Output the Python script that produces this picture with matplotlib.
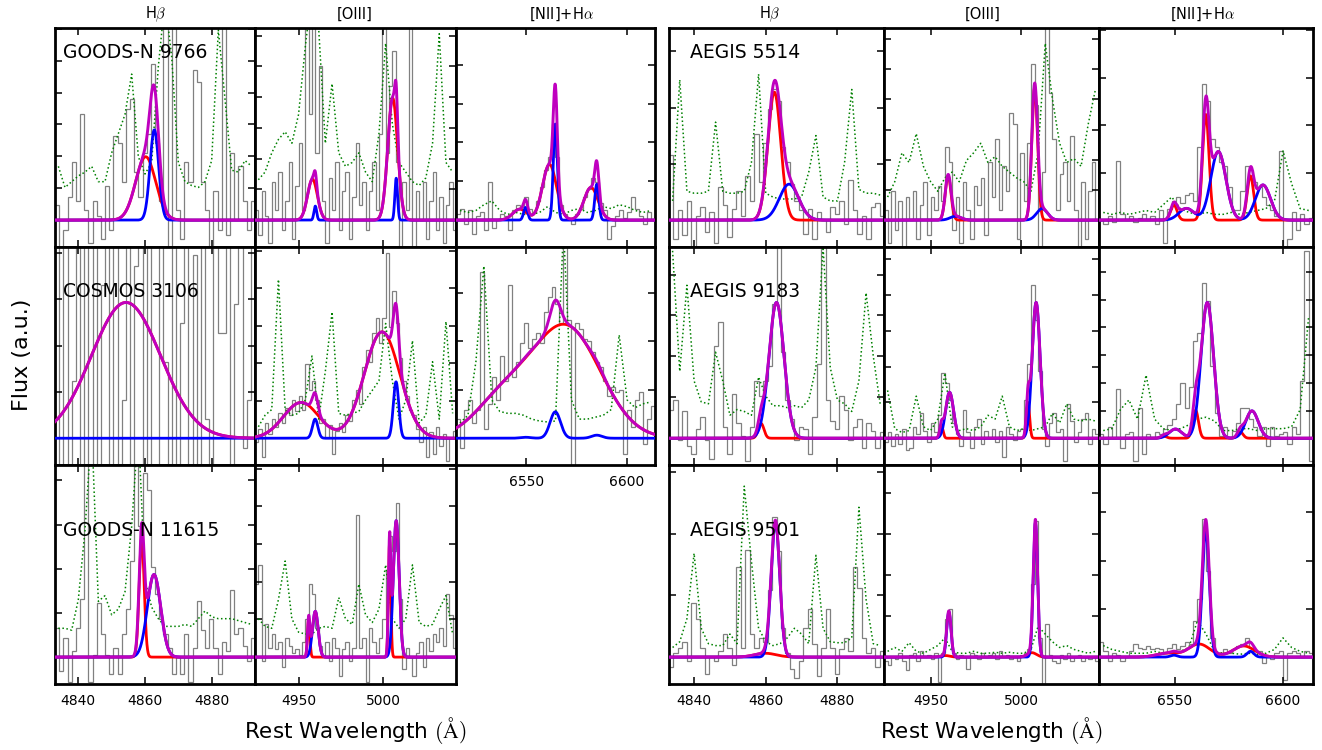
import numpy as np
import matplotlib
matplotlib.use('Agg')
import matplotlib.pyplot as plt
from matplotlib.ticker import MultipleLocator

plt.rcParams['font.family'] = ['DejaVu Sans']
plt.rcParams['mathtext.fontset'] = 'cm'

# ---------------- wavelength windows (rest frame, Angstrom) ----------------
HB_RANGE = (4833.0, 4893.0)
OIII_RANGE = (4924.0, 5043.0)
NII_RANGE = (6515.0, 6614.0)
HB_TICKS = [4840, 4860, 4880]
OIII_TICKS = [4950, 5000]
NII_TICKS = [6550, 6600]
COL_TITLES = ['H$\\beta$', '[OIII]', '[NII]+H$\\alpha$']

# ---------------- fit components: (centre, amplitude, sigma) ----------------
gn9766_hb_red = [(4860.2, 0.33, 3.0)]
gn9766_hb_blue = [(4862.8, 0.47, 1.3)]
gn9766_oiii_red = [(4958.0, 0.213, 2.9), (5005.5, 0.636, 2.9)]
gn9766_oiii_blue = [(4959.7, 0.073, 0.8), (5007.6, 0.218, 0.8)]
gn9766_nii_red = [(6546.75, 0.057, 3.5), (6561.5, 0.29, 3.5), (6582.15, 0.17, 3.5)]
gn9766_nii_blue = [(6549.65, 0.066, 1.0), (6564.4, 0.50, 1.0), (6585.05, 0.187, 1.0)]

a5514_hb_red = [(4862.4, 0.666, 1.8)]
a5514_hb_blue = [(4866.5, 0.187, 2.7)]
a5514_oiii_red = [(4959.5, 0.23, 1.6), (5007.4, 0.69, 1.6)]
a5514_oiii_blue = [(4963.6, 0.02, 3.0), (5011.5, 0.06, 3.0)]
a5514_nii_red = [(6549.65, 0.078, 1.5), (6564.4, 0.55, 1.5), (6585.05, 0.23, 1.5)]
a5514_nii_blue = [(6555.45, 0.061, 3.5), (6570.2, 0.357, 3.5), (6590.85, 0.183, 3.5)]

c3106_hb_red = [(4854.3, 0.71, 10.4)]
c3106_hb_blue = [(4862.0, 0.0, 1.0)]
c3106_oiii_red = [(4951.3, 0.187, 10.5), (4999.2, 0.556, 10.5)]
c3106_oiii_blue = [(4959.6, 0.10, 1.6), (5007.5, 0.295, 1.6)]
c3106_nii_red = [(6538.0, 0.19, 14.0), (6569.8, 0.58, 17.0)]
c3106_nii_blue = [(6549.65, 0.005, 2.6), (6564.4, 0.138, 2.6), (6585.05, 0.016, 2.6)]

a9183_hb_red = [(4858.7, 0.077, 0.8)]
a9183_hb_blue = [(4863.0, 0.71, 2.1)]
a9183_oiii_red = [(4955.8, 0.064, 0.9), (5003.7, 0.187, 0.9)]
a9183_oiii_blue = [(4960.3, 0.24, 2.2), (5008.2, 0.71, 2.2)]
a9183_nii_red = [(6544.95, 0.011, 1.3), (6559.7, 0.146, 1.3), (6580.35, 0.033, 1.3)]
a9183_nii_blue = [(6550.35, 0.048, 2.9), (6565.1, 0.71, 2.9), (6585.75, 0.143, 2.9)]

gn11615_hb_red = [(4859.0, 0.62, 0.75)]
gn11615_hb_blue = [(4862.7, 0.43, 2.0)]
gn11615_oiii_red = [(4955.8, 0.20, 0.7), (5003.7, 0.60, 0.7)]
gn11615_oiii_blue = [(4959.7, 0.238, 1.7), (5007.6, 0.71, 1.7)]

a9501_hb_red = [(4859.9, 0.02, 3.0)]
a9501_hb_blue = [(4862.7, 0.70, 1.2)]
a9501_oiii_red = [(4958.0, 0.008, 2.5), (5005.9, 0.023, 2.5)]
a9501_oiii_blue = [(4959.9, 0.235, 1.2), (5007.8, 0.70, 1.2)]
a9501_nii_red = [(6546.55, 0.02, 5.0), (6561.3, 0.068, 5.0), (6581.95, 0.058, 5.0)]
a9501_nii_blue = [(6549.65, 0.01, 1.6), (6564.4, 0.66, 1.6), (6585.05, 0.03, 1.6)]

# ---------------- observed spectra (grey) and error spectra (green) ----------------
gn9766_hb_gray = [0.08, -0.15, -0.05, 0.12, 0.30, 0.10, 0.55, 0.05, -0.12, 0.10,
                  0.02, -0.10, 0.18, -0.05, 0.44, 0.40, 0.20, 0.58, 0.63, 0.25,
                  0.12, 0.35, 0.45, 0.81, 0.40, 0.10, 1.30, -0.20, 1.20, 0.05,
                  -0.10, 0.30, 0.20, 0.78, 0.72, 0.20, 0.05, -0.15, 0.15, -0.05,
                  1.20, -0.08, 0.35, 0.00, 0.28, 0.10, -0.05, 0.10]
gn9766_hb_green = [0.28, 0.17, 0.20, 0.23, 0.25, 0.28, 0.20, 0.20, 0.35, 0.45,
                   0.55, 0.76, 0.33, 0.24, 0.30, 0.80, 1.15, 0.85, 0.30, 0.20,
                   0.18, 0.17, 0.20, 0.31, 0.99, 0.63, 0.26, 0.25, 0.31, 0.28]
gn9766_oiii_gray = [0.05, -0.08, 0.15, 0.02, -0.12, 0.20, 0.05, 0.25, -0.05, 0.10,
                    0.30, -0.10, 0.18, 0.40, 0.05, 1.30, 0.55, 1.25, 0.35, 0.80,
                    0.10, -0.12, 0.22, 0.05, 0.30, -0.05, 0.15, 0.25, -0.10, 0.12,
                    0.40, 0.08, 0.20, -0.05, 0.15, 0.30, 0.05, 0.45, 1.20, 0.35,
                    0.70, 0.88, 0.30, -0.20, 0.20, 0.05, 1.30, -0.20, 0.15, 0.00,
                    0.20, -0.10, 0.10, 0.25, -0.05, 0.12, -0.12, 0.08, 0.20, -0.05]
gn9766_oiii_green = [0.21, 0.25, 0.35, 0.42, 0.46, 0.40, 0.55, 0.90, 1.20, 1.00,
                     0.40, 0.71, 0.35, 0.28, 0.30, 0.35, 0.25, 0.20, 0.45, 0.92,
                     0.50, 0.30, 0.25, 0.20, 0.18, 0.22, 0.40, 0.97, 0.30, 0.25]
gn9766_nii_gray = [0.03, 0.06, -0.02, 0.05, -0.07, 0.02, 0.04, -0.05, 0.20, -0.04,
                   0.00, 0.03, 0.02, -0.05, 0.05, 0.08, 0.07, 0.12, 0.06, 0.04,
                   0.10, 0.17, 0.26, 0.33, 0.50, 0.33, 0.08, 0.03, 0.01, -0.02,
                   0.03, 0.06, 0.12, 0.16, 0.22, 0.20, 0.09, 0.05, -0.10, -0.03,
                   0.02, 0.05, 0.01, 0.04, 0.12, 0.06, 0.02, -0.02, 0.04, 0.00]
gn9766_nii_green = [0.05, 0.04, 0.05, 0.08, 0.10, 0.05, 0.03, 0.04, 0.03, 0.03,
                    0.04, 0.07, 0.04, 0.03, 0.05, 0.06, 0.04, 0.05, 0.07, 0.06,
                    0.08, 0.07, 0.05, 0.04, 0.05]

a5514_hb_gray = [0.34, -0.10, 0.05, -0.08, 0.10, -0.14, 0.02, 0.07, -0.06, 0.04,
                 -0.12, 0.17, 0.08, -0.09, 0.06, 0.15, 0.02, 0.23, 0.10, 0.45,
                 0.20, 0.40, 0.58, 0.68, 0.62, 0.38, 0.30, 0.19, 0.10, 0.05,
                 -0.07, 0.06, -0.10, 0.04, 0.00, -0.06, 0.07, 0.03, 0.10, -0.02,
                 0.21, 0.05, -0.07, 0.02, -0.10, 0.07, 0.09, 0.02]
a5514_hb_green = [0.10, 0.73, 0.15, 0.14, 0.14, 0.15, 0.51, 0.15, 0.14, 0.14,
                  0.15, 0.30, 0.76, 0.14, 0.12, 0.11, 0.11, 0.11, 0.12, 0.25,
                  0.44, 0.12, 0.10, 0.10, 0.30, 0.68, 0.16, 0.14, 0.14, 0.13]
a5514_oiii_gray = [0.05, -0.12, 0.15, -0.05, 0.10, -0.14, 0.12, 0.00, 0.15, -0.10,
                   0.08, 0.20, -0.08, 0.12, 0.05, 0.18, 0.10, 0.38, 0.30, -0.05,
                   0.12, -0.12, 0.20, 0.05, -0.10, 0.18, 0.08, 0.22, -0.08, 0.30,
                   0.12, 0.42, 0.05, 0.28, 0.15, 0.56, 0.50, -0.10, 0.35, 0.10,
                   0.40, 0.81, 0.60, -0.15, 0.25, 1.05, 0.66, 0.42, 0.05, 0.24,
                   0.30, 0.10, 0.44, 0.05, -0.14, 0.20, -0.10, 0.15, 0.30, 0.00]
a5514_oiii_green = [0.12, 0.20, 0.35, 0.30, 0.45, 0.28, 0.20, 0.15, 0.22, 0.25,
                    0.20, 0.31, 0.35, 0.40, 0.30, 0.33, 0.28, 0.25, 0.22, 0.20,
                    0.15, 0.35, 0.92, 0.63, 0.40, 0.30, 0.32, 0.28, 0.50, 0.68]
a5514_nii_gray = [0.00, -0.02, 0.02, -0.01, 0.31, 0.03, 0.00, 0.02, -0.01, 0.01,
                  0.03, 0.00, 0.02, -0.02, 0.05, -0.12, 0.06, 0.10, 0.12, 0.09,
                  0.13, 0.14, 0.10, 0.38, 0.71, 0.62, 0.42, 0.38, 0.30, 0.28,
                  0.17, 0.05, 0.05, 0.15, 0.28, 0.26, 0.20, 0.17, 0.12, 0.08,
                  0.05, 0.02, 0.36, -0.14, -0.10, 0.04, -0.05, 0.03, -0.02, 0.01]
a5514_nii_green = [0.04, 0.03, 0.04, 0.03, 0.04, 0.05, 0.04, 0.08, 0.12, 0.06,
                   0.04, 0.03, 0.04, 0.03, 0.03, 0.04, 0.03, 0.04, 0.05, 0.06,
                   0.10, 0.36, 0.19, 0.06, 0.05]

c3106_hb_gray = [1.60, -0.50, 1.40, -1.20, 0.30, 1.80, -0.90, 1.10, -0.30, 1.50,
                 -1.40, 0.80, 2.00, -0.60, 1.30, -1.00, 0.20, 1.70, -1.30, 0.90,
                 1.20, -0.80, 1.60, -0.20, -1.50, 1.90, 0.40, -0.70, 1.40, -1.10,
                 0.60, 1.80, -0.40, 0.96, -1.30, 1.50, 0.10, -0.90, 1.70, 0.55,
                 0.55, 1.30, -1.20, 0.70, 1.60, -0.05, 0.20, 1.10]
c3106_hb_green = []
c3106_oiii_gray = [-0.02, 0.05, -0.10, 0.08, 0.02, 0.10, 0.06, 0.13, 0.08, 0.16,
                   0.12, 0.20, 0.14, 0.22, 0.15, 0.39, 0.25, 0.30, 0.20, 0.08,
                   0.10, 0.00, 0.07, -0.08, 0.04, 0.08, 0.03, 0.12, 0.09, 0.20,
                   0.25, 0.18, 0.37, 0.46, 0.40, 0.55, 0.63, 0.50, 0.63, 0.97,
                   0.58, 0.77, 0.60, 0.42, 0.30, 0.22, 0.15, 0.12, 0.05, -0.02,
                   0.06, -0.10, 0.03, -0.08, 0.06, -0.04, 0.02, -0.12, 0.00, 0.04]
c3106_oiii_green = [0.06, 0.12, 0.15, 0.83, 0.15, 0.12, 0.13, 0.20, 0.43, 0.10,
                    0.35, 0.66, 0.13, 0.12, 0.13, 0.14, 0.20, 0.25, 0.30, 0.60,
                    0.30, 0.10, 0.20, 0.51, 0.08, 0.12, 0.40, 0.10, 0.61, 0.13]
c3106_nii_gray = [0.10, -0.05, 0.15, 0.20, 0.08, 0.15, 0.87, 0.05, 0.18, 0.32,
                  0.20, 0.43, 0.30, 0.80, 0.32, 0.40, 0.50, 0.60, 0.47, 0.52,
                  0.55, 0.50, 0.66, 0.74, 0.79, 0.70, 0.60, 1.15, 0.62, -0.15,
                  0.60, 0.57, 0.52, 0.51, 0.45, 0.40, 0.37, 0.30, 0.22, 0.27,
                  0.24, 0.25, -0.08, 0.15, 0.06, 0.20, 0.24, -0.03, 0.10, 0.17]
c3106_nii_green = [0.08, 0.12, 0.40, 0.90, 0.20, 0.14, 0.13, 0.13, 0.12, 0.10,
                   0.09, 0.085, 0.09, 1.10, 0.20, 0.10, 0.10, 0.11, 0.12, 0.15,
                   0.54, 0.20, 0.16, 0.18, 0.19]

a9183_hb_gray = [0.15, 0.20, -0.01, 0.14, -0.04, -0.08, 0.05, 0.11, -0.01, -0.11,
                 0.48, 0.61, 0.06, -0.08, 0.23, 0.08, 0.01, -0.12, 0.06, 0.30,
                 0.22, 0.30, 0.38, 0.70, 1.20, 0.45, 0.20, 0.10, -0.01, 0.06,
                 0.05, -0.08, 0.11, 0.39, 1.15, 0.20, 0.09, 0.05, 0.22, 0.15,
                 -0.01, 0.06, 0.10, -0.05, 0.08, 0.04, -0.05, 0.03]
a9183_hb_green = [0.98, 0.35, 0.80, 0.30, 0.19, 0.18, 0.45, 0.30, 0.12, 0.15,
                  0.14, 0.12, 0.32, 0.22, 0.17, 0.17, 0.16, 0.17, 0.16, 0.20,
                  0.37, 1.00, 0.37, 0.20, 0.18, 0.14, 0.30, 0.76, 0.43, 0.17]
a9183_oiii_gray = [-0.02, 0.03, -0.04, 0.02, -0.03, 0.05, -0.06, -0.05, 0.06, 0.02,
                   0.13, 0.04, -0.02, 0.08, 0.03, 0.12, 0.34, 0.29, 0.20, 0.08,
                   0.02, -0.04, 0.15, 0.03, -0.05, 0.06, 0.10, -0.03, 0.04, 0.00,
                   0.05, -0.02, 0.04, -0.10, 0.06, 0.02, -0.01, 0.04, 0.05, 0.20,
                   0.39, 0.80, 0.62, 0.35, 0.05, -0.04, 0.08, 0.13, 0.03, 0.05,
                   -0.12, 0.18, 0.09, -0.02, 0.03, 0.10, 0.13, -0.03, 0.05, 0.02]
a9183_oiii_green = [0.25, 0.05, 0.03, 0.04, 0.22, 0.06, 0.04, 0.10, 0.34, 0.06,
                    0.04, 0.05, 0.04, 0.06, 0.12, 0.10, 0.22, 0.06, 0.04, 0.05,
                    0.04, 0.05, 0.06, 0.13, 0.08, 0.18, 0.10, 0.09, 0.10, 0.09]
a9183_nii_gray = [0.02, -0.03, 0.06, 0.00, 0.26, -0.05, 0.02, 0.03, -0.12, 0.16,
                  -0.08, 0.02, 0.00, 0.03, 0.02, 0.05, 0.07, 0.10, 0.18, 0.29,
                  0.16, 0.27, 0.51, 0.55, 0.81, 0.72, 0.38, 0.13, 0.01, 0.06,
                  0.00, 0.04, 0.08, 0.16, 0.16, 0.10, 0.06, 0.01, 0.06, -0.04,
                  0.06, 0.01, 0.02, 0.03, -0.03, 0.06, 0.02, 0.30, 0.98, -0.12]
a9183_nii_green = [0.04, 0.05, 0.15, 0.20, 0.10, 0.33, 0.10, 0.05, 0.04, 0.05,
                   0.07, 0.10, 0.11, 0.09, 0.04, 0.04, 0.05, 0.05, 0.04, 0.05,
                   0.05, 0.05, 0.06, 0.15, 0.64]

gn11615_hb_gray = [0.15, -0.07, 0.10, -0.13, 0.03, 0.15, 0.30, 1.20, -0.13, 0.01,
                   0.28, 0.12, 0.01, -0.09, 0.05, -0.09, 0.12, 0.25, 0.50, 1.20,
                   0.68, 0.96, 0.87, 0.47, 0.33, 0.20, 0.12, 0.05, -0.09, 0.00,
                   -0.09, 0.12, -0.13, 0.05, 0.29, 0.14, 0.05, 0.20, 0.05, -0.09,
                   0.08, 0.03, 0.35, 0.12, 0.15, 0.06, -0.02, 0.10]
gn11615_hb_green = [0.15, 0.15, 0.14, 0.30, 0.66, 1.20, 0.29, 0.32, 0.22, 0.25,
                    0.34, 0.68, 1.20, 0.40, 0.26, 0.20, 0.16, 0.16, 0.16, 0.17,
                    0.16, 0.20, 0.24, 0.21, 0.20, 0.20, 0.20, 0.19, 0.18, 0.17]
gn11615_oiii_gray = [0.38, 0.48, -0.02, 0.17, 0.05, 0.12, 0.04, 0.08, -0.05, 0.10,
                     0.06, 0.02, 0.04, 0.01, 0.08, 0.20, 0.38, 0.33, 0.15, 0.06,
                     0.00, 0.08, -0.02, 0.10, 0.05, -0.10, 0.04, 0.08, -0.02, 0.05,
                     0.74, 0.05, 0.10, -0.13, 0.15, 0.08, 0.02, 0.10, 0.20, 0.45,
                     0.63, 0.55, 0.80, 0.30, -0.06, 0.05, 0.00, -0.10, 0.02, 0.08,
                     -0.05, 0.10, 0.03, 0.12, 0.08, 0.15, 0.06, 0.33, 0.22, 0.05]
gn11615_oiii_green = [0.20, 0.16, 0.15, 0.30, 0.50, 0.20, 0.13, 0.12, 0.12, 0.15,
                      0.16, 0.15, 0.31, 0.20, 0.17, 0.38, 0.22, 0.18, 0.25, 0.48,
                      0.20, 0.15, 0.20, 0.48, 0.18, 0.16, 0.17, 0.25, 0.32, 0.12]

a9501_hb_gray = [-0.05, 0.02, 0.05, 0.08, -0.02, 0.28, 0.20, 0.05, -0.09, 0.00,
                 -0.02, 0.03, 0.12, 0.05, -0.04, 0.47, 0.05, 0.56, 0.12, 0.05,
                 0.10, 0.08, 0.35, 0.73, 0.55, 0.15, 0.02, -0.06, -0.11, -0.02,
                 0.15, 0.25, 0.07, -0.10, 0.05, 0.25, 0.05, -0.09, 0.04, 0.10,
                 0.03, 0.47, 0.36, 0.10, 0.02, 0.05, -0.05, 0.03]
a9501_hb_green = [0.05, 0.08, 0.20, 0.54, 0.15, 0.07, 0.06, 0.06, 0.12, 0.07,
                  0.89, 0.50, 0.15, 0.08, 0.06, 0.07, 0.10, 0.15, 0.12, 0.07,
                  0.53, 0.15, 0.08, 0.075, 0.075, 0.10, 0.78, 0.30, 0.07, 0.06]
a9501_oiii_gray = [-0.02, -0.04, 0.00, -0.01, 0.02, -0.02, -0.065, 0.01, 0.02, -0.02,
                   0.03, 0.00, 0.01, -0.01, 0.02, -0.13, 0.02, 0.20, 0.25, 0.02,
                   -0.01, 0.01, 0.00, -0.06, 0.02, 0.01, -0.01, 0.02, 0.00, 0.01,
                   0.02, -0.01, 0.03, 0.00, 0.01, -0.01, 0.00, -0.02, 0.01, 0.02,
                   0.04, 0.38, 0.71, 0.10, -0.14, 0.17, 0.01, -0.02, -0.03, 0.01,
                   -0.01, 0.02, -0.02, 0.00, 0.01, -0.02, 0.00, -0.01, 0.00, -0.02]
a9501_oiii_green = [0.03, 0.05, 0.03, 0.075, 0.03, 0.02, 0.04, 0.06, 0.10, 0.03,
                    0.02, 0.02, 0.03, 0.02, 0.02, 0.025, 0.02, 0.025, 0.02, 0.02,
                    0.04, 0.16, 0.12, 0.08, 0.05, 0.06, 0.04, 0.03, 0.02, 0.03]
a9501_nii_gray = [0.08, 0.03, -0.02, 0.02, 0.01, -0.02, 0.00, 0.03, 0.07, 0.05,
                  0.04, 0.06, 0.04, 0.05, 0.04, 0.02, 0.05, 0.07, 0.04, 0.06,
                  0.08, 0.07, 0.19, 0.30, 0.72, 0.45, 0.10, 0.01, 0.02, 0.04,
                  0.02, 0.04, 0.06, 0.07, 0.10, 0.05, 0.03, 0.03, -0.03, 0.00,
                  -0.01, 0.02, 0.03, -0.12, 0.02, 0.03, 0.02, 0.00, 0.03, 0.02]
a9501_nii_green = [0.06, 0.04, 0.03, 0.02, 0.02, 0.02, 0.03, 0.02, 0.02, 0.03,
                   0.05, 0.19, 0.12, 0.03, 0.02, 0.02, 0.015, 0.02, 0.015, 0.02,
                   0.04, 0.10, 0.05, 0.03, 0.02]

# ---------------- panel table ----------------
# (group, row, col, range, ticks, grey, green, red, blue, ytick step, label, show x labels)
panels = [
    (0, 0, 0, HB_RANGE, HB_TICKS, gn9766_hb_gray, gn9766_hb_green, gn9766_hb_red, gn9766_hb_blue, 0.166, 'GOODS-N 9766', False),
    (0, 0, 1, OIII_RANGE, OIII_TICKS, gn9766_oiii_gray, gn9766_oiii_green, gn9766_oiii_red, gn9766_oiii_blue, 0.160, None, False),
    (0, 0, 2, NII_RANGE, NII_TICKS, gn9766_nii_gray, gn9766_nii_green, gn9766_nii_red, gn9766_nii_blue, 0.202, None, False),
    (1, 0, 0, HB_RANGE, HB_TICKS, a5514_hb_gray, a5514_hb_green, a5514_hb_red, a5514_hb_blue, 0.293, 'AEGIS 5514', False),
    (1, 0, 1, OIII_RANGE, OIII_TICKS, a5514_oiii_gray, a5514_oiii_green, a5514_oiii_red, a5514_oiii_blue, 0.157, None, False),
    (1, 0, 2, NII_RANGE, NII_TICKS, a5514_nii_gray, a5514_nii_green, a5514_nii_red, a5514_nii_blue, 0.247, None, False),
    (0, 1, 0, HB_RANGE, HB_TICKS, c3106_hb_gray, c3106_hb_green, c3106_hb_red, c3106_hb_blue, 0.242, 'COSMOS 3106', False),
    (0, 1, 1, OIII_RANGE, OIII_TICKS, c3106_oiii_gray, c3106_oiii_green, c3106_oiii_red, c3106_oiii_blue, 0.196, None, False),
    (0, 1, 2, NII_RANGE, NII_TICKS, c3106_nii_gray, c3106_nii_green, c3106_nii_red, c3106_nii_blue, 0.254, None, True),
    (1, 1, 0, HB_RANGE, HB_TICKS, a9183_hb_gray, a9183_hb_green, a9183_hb_red, a9183_hb_blue, 0.214, 'AEGIS 9183', False),
    (1, 1, 1, OIII_RANGE, OIII_TICKS, a9183_oiii_gray, a9183_oiii_green, a9183_oiii_red, a9183_oiii_blue, 0.187, None, False),
    (1, 1, 2, NII_RANGE, NII_TICKS, a9183_nii_gray, a9183_nii_green, a9183_nii_red, a9183_nii_blue, 0.145, None, False),
    (0, 2, 0, HB_RANGE, HB_TICKS, gn11615_hb_gray, gn11615_hb_green, gn11615_hb_red, gn11615_hb_blue, 0.230, 'GOODS-N 11615', True),
    (0, 2, 1, OIII_RANGE, OIII_TICKS, gn11615_oiii_gray, gn11615_oiii_green, gn11615_oiii_red, gn11615_oiii_blue, 0.196, None, True),
    (1, 2, 0, HB_RANGE, HB_TICKS, a9501_hb_gray, a9501_hb_green, a9501_hb_red, a9501_hb_blue, 0.321, 'AEGIS 9501', True),
    (1, 2, 1, OIII_RANGE, OIII_TICKS, a9501_oiii_gray, a9501_oiii_green, a9501_oiii_red, a9501_oiii_blue, 0.213, None, True),
    (1, 2, 2, NII_RANGE, NII_TICKS, a9501_nii_gray, a9501_nii_green, a9501_nii_red, a9501_nii_blue, 0.251, None, True),
]

# ---------------- layout (pixels) ----------------
W, H = 1322, 750
COL_PX = {0: [55, 255, 456, 655], 1: [669, 884, 1099, 1313]}
ROW_PX = [28, 247, 465, 684]
LABEL_X = {0: 0.04, 1: 0.10}
LABEL_Y = [0.862, 0.769, 0.676]
TITLE_X = {0: [156, 355, 562], 1: [770, 983, 1203]}


def gauss_sum(x, comps):
    y = np.zeros_like(x)
    for c, a, s in comps:
        y = y + a * np.exp(-0.5 * ((x - c) / s) ** 2)
    return y


fig = plt.figure(figsize=(13.22, 7.5), dpi=100)

for (grp, row, col, rng, ticks, grey, green, red, blue, ystep, label, xlab) in panels:
    x0, x1 = COL_PX[grp][col], COL_PX[grp][col + 1]
    y0, y1 = ROW_PX[row], ROW_PX[row + 1]
    ax = fig.add_axes([x0 / W, 1 - y1 / H, (x1 - x0) / W, (y1 - y0) / H])
    lo, hi = rng

    g = np.asarray(grey, dtype=float)
    edges = np.linspace(lo, hi, len(g) + 1)
    ax.stairs(g, edges, baseline=None, color='0.5', lw=0.9, zorder=1)

    if len(green):
        gr = np.asarray(green, dtype=float)
        ge = np.linspace(lo, hi, len(gr) + 1)
        gc = 0.5 * (ge[:-1] + ge[1:])
        ax.plot(gc, gr, ls=':', color='green', lw=1.1, zorder=2)

    xf = np.linspace(lo, hi, 1500)
    yr = gauss_sum(xf, red)
    yb = gauss_sum(xf, blue)
    ax.plot(xf, yr, color='red', lw=2.0, zorder=3)
    ax.plot(xf, yb, color='blue', lw=2.0, zorder=4)
    ax.plot(xf, yr + yb, color='m', lw=2.1, zorder=5)

    ax.set_xlim(lo, hi)
    ax.set_ylim(-0.14, 1.0)
    ax.set_xticks(ticks)
    ax.yaxis.set_major_locator(MultipleLocator(ystep))
    ax.tick_params(direction='in', top=True, right=True, length=5, width=1.1,
                   labelsize=10, pad=7, labelleft=False, labelbottom=xlab)
    for sp in ax.spines.values():
        sp.set_linewidth(2.0)

    if label:
        ax.text(LABEL_X[grp], LABEL_Y[row], label, transform=ax.transAxes,
                fontsize=13.5, ha='left', va='baseline', zorder=6)

for grp in (0, 1):
    for k, t in enumerate(COL_TITLES):
        fig.text(TITLE_X[grp][k] / W, 1 - 14 / H, t, ha='center', va='center', fontsize=10.5)

fig.text(22 / W, 1 - 355 / H, 'Flux (a.u.)', rotation=90, ha='center', va='center', fontsize=16)
fig.text(355 / W, 1 - 731 / H, r'Rest Wavelength $(\mathrm{\AA})$', ha='center', va='center', fontsize=15.5)
fig.text(991 / W, 1 - 731 / H, r'Rest Wavelength $(\mathrm{\AA})$', ha='center', va='center', fontsize=15.5)

fig.savefig('out.png', dpi=100)
